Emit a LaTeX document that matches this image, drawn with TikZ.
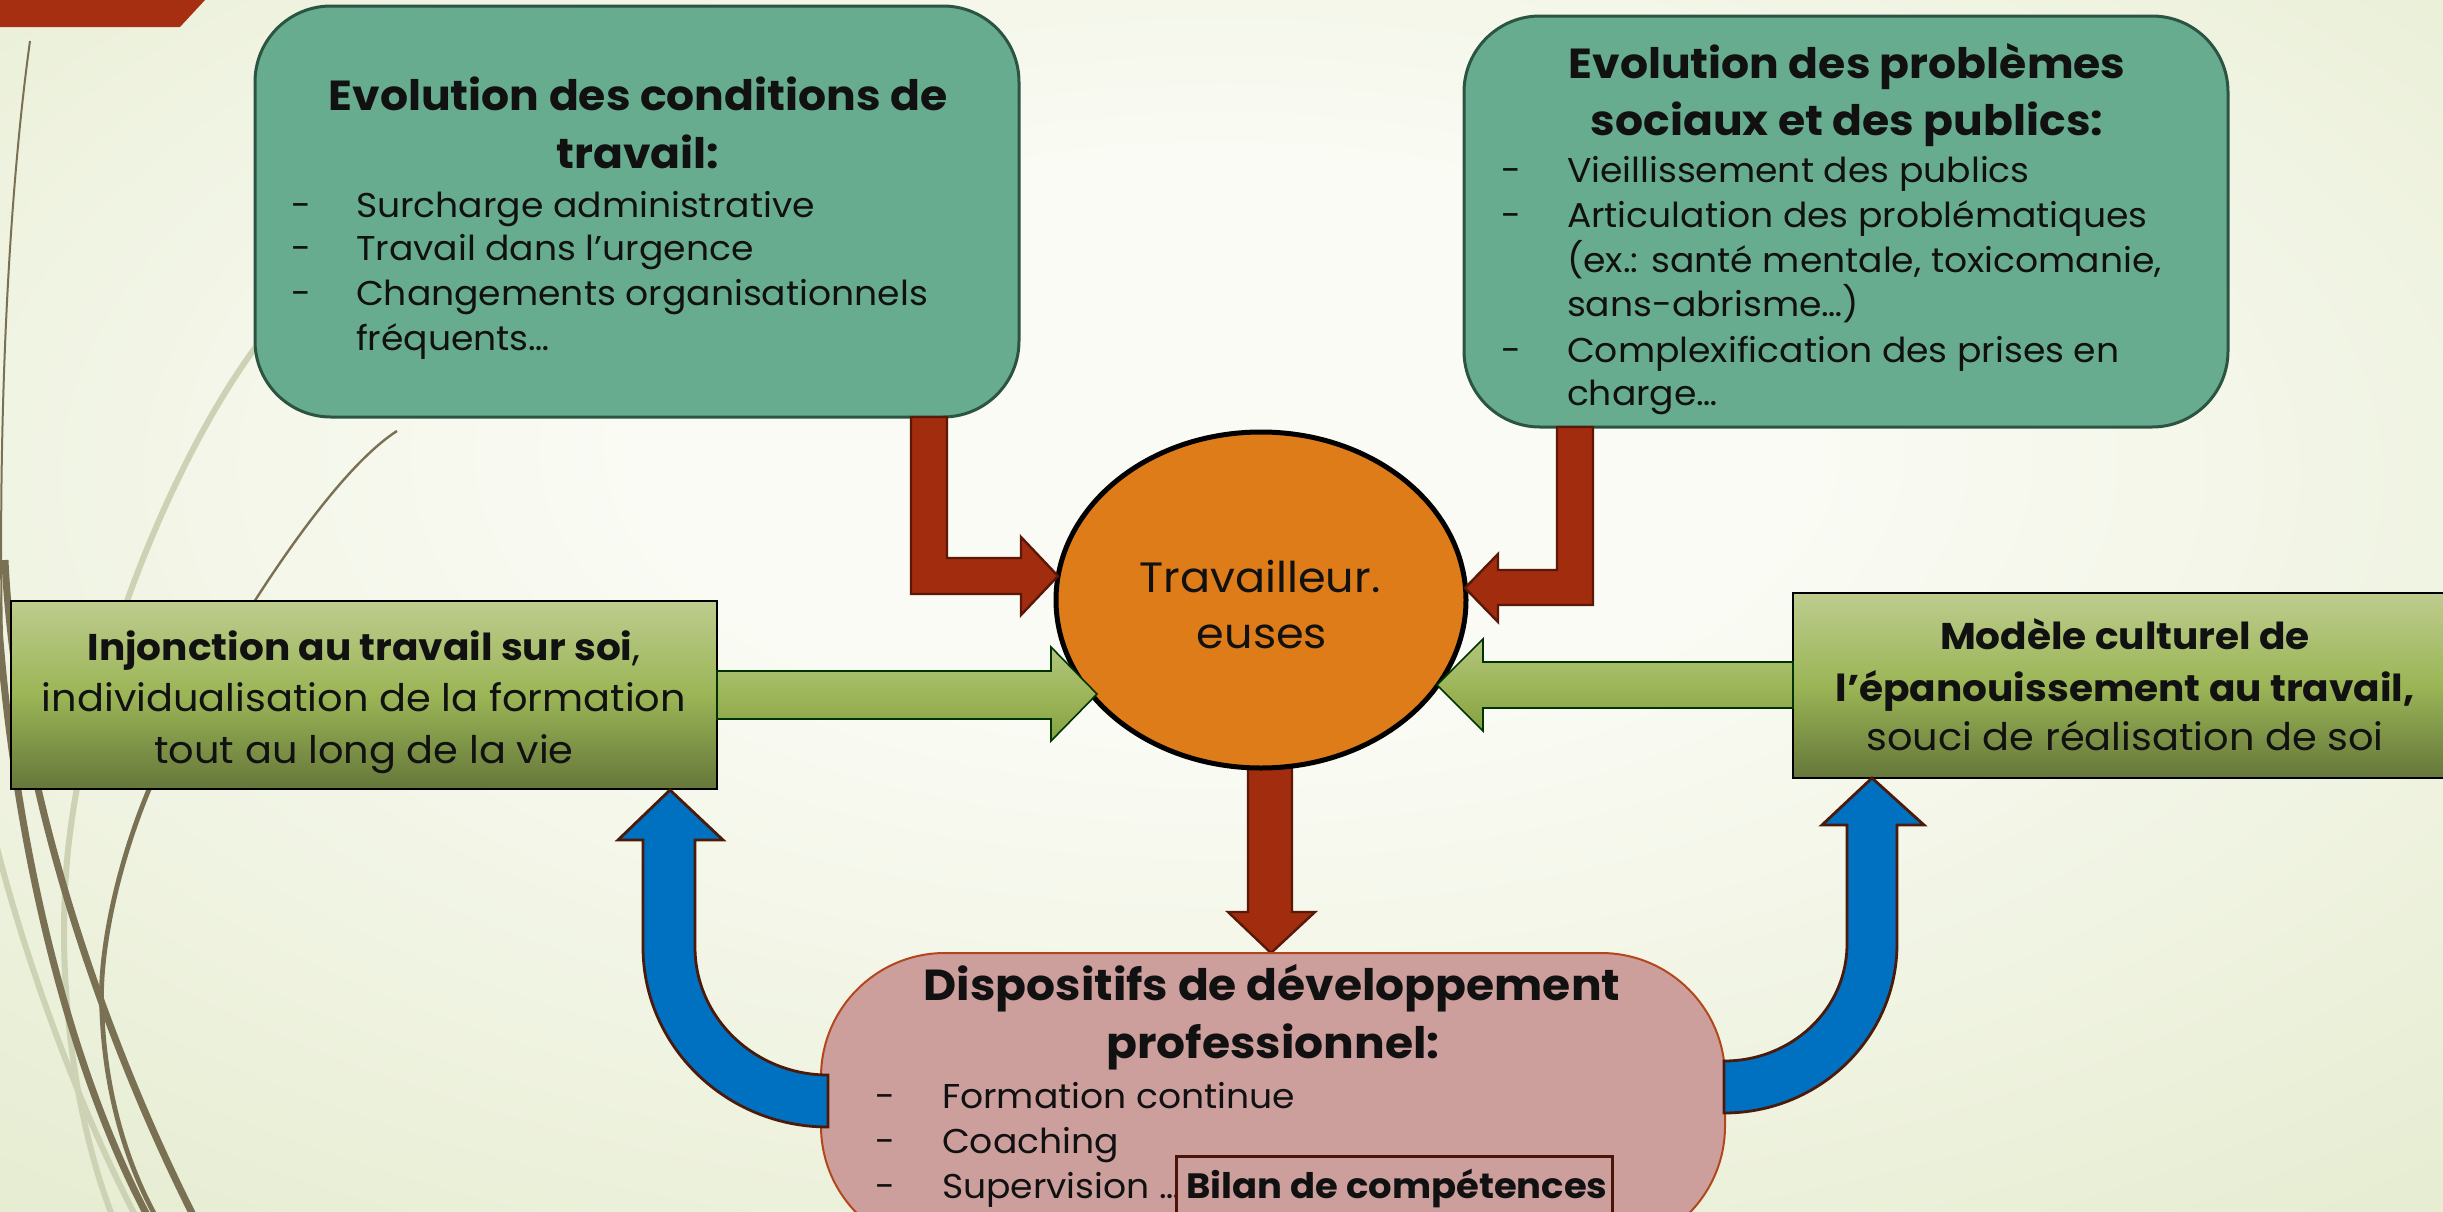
\documentclass[tikz,border=0pt]{standalone}
\usepackage{fontspec}
\setmainfont{Poppins}
\usepackage{graphicx}
\usetikzlibrary{shapes.geometric}
\definecolor{bgin}{HTML}{FAFBF4}
\definecolor{bgout}{HTML}{DDE6C1}
\definecolor{tealfill}{HTML}{68AC8F}
\definecolor{tealline}{HTML}{2C5443}
\definecolor{redfill}{HTML}{A22C0E}
\definecolor{redline}{HTML}{5A1808}
\definecolor{orangefill}{HTML}{DE7C1A}
\definecolor{gtop}{HTML}{BDCC8E}
\definecolor{gmid}{HTML}{9BB556}
\definecolor{gbot}{HTML}{65773A}
\definecolor{atop}{HTML}{B3C57E}
\definecolor{amid}{HTML}{9DB65A}
\definecolor{abot}{HTML}{86A044}
\definecolor{bluefill}{HTML}{0070C0}
\definecolor{blueline}{HTML}{4A1A0A}
\definecolor{pinkfill}{HTML}{CC9F9D}
\definecolor{pinkline}{HTML}{B4461C}
\definecolor{bilanline}{HTML}{4A1508}
\definecolor{txt}{HTML}{111111}
\definecolor{topbar}{HTML}{A52F10}
\definecolor{decobrown}{HTML}{7A7054}
\definecolor{decolight}{HTML}{CCD2B3}
\pgfdeclareradialshading{bgshade}{\pgfpoint{0bp}{8bp}}{color(0bp)=(bgin); color(12bp)=(bgin); color(50bp)=(bgout); color(70bp)=(bgout)}
\newcommand{\hs}[1]{\scalebox{1.05}[1]{#1}}
\tikzset{
  tealbox/.style={rectangle, draw=tealline, line width=0.75pt, fill=tealfill, rounded corners=19pt, inner sep=0pt, outer sep=0pt, minimum width=191pt, minimum height=102.75pt},
  greenbox/.style={rectangle, draw=black, line width=0.5pt, top color=gtop, bottom color=gbot, middle color=gmid, inner sep=0pt, outer sep=0pt},
  pinkbox/.style={rectangle, draw=pinkline, line width=0.5pt, fill=pinkfill, rounded corners=31pt, inner sep=0pt, outer sep=0pt},
  workerbox/.style={ellipse, draw=black, line width=1.25pt, fill=orangefill, inner sep=0pt, outer sep=0pt},
  bilanbox/.style={rectangle, draw=bilanline, line width=0.75pt, fill=pinkfill, inner sep=0pt, outer sep=0pt},
  redarrow/.style={fill=redfill, draw=redline, line width=0.6pt, line join=miter},
  greenarrow/.style={top color=atop, bottom color=abot, middle color=amid, draw=black!80!green, line width=0.4pt},
  bluearrow/.style={fill=bluefill, draw=blueline, line width=0.7pt},
  txtline/.style={anchor=base, inner sep=0pt, outer sep=0pt, text=txt},
  txtleft/.style={anchor=base west, inner sep=0pt, outer sep=0pt, text=txt},
  titlefont/.style={font=\fontsize{10.5}{12}\selectfont\bfseries},
  pinktitlefont/.style={font=\fontsize{10.85}{13}\selectfont\bfseries},
  bodyfont/.style={font=\fontsize{8.6}{10}\selectfont},
  greenfont/.style={font=\fontsize{9.5}{11}\selectfont},
  greenbfont/.style={font=\fontsize{9.3}{11}\selectfont\bfseries},
  circlefont/.style={font=\fontsize{10.6}{12}\selectfont},
  bilanfont/.style={font=\fontsize{8.8}{11}\selectfont\bfseries},
  decothick/.style={draw=decobrown, line width=1.75pt},
  decolightline/.style={draw=decolight, line width=1.5pt},
}
\begin{document}
\begin{tikzpicture}[x=0.25pt, y=-0.25pt]
\useasboundingbox (0,0) rectangle (2443,1211);
\clip (0,0) rectangle (2443,1211);
% background
\shade[shading=bgshade] (0,0) rectangle (2443,1211);
\fill[topbar] (0,0) -- (205,0) -- (180,27) -- (0,27) -- cycle;
% decorative curves
\draw[decolightline] (255,348) .. controls (180,450) and (90,650) .. (68,850) .. controls (55,980) and (75,1120) .. (112,1215);
\draw[decolightline] (-5,840) .. controls (25,960) and (80,1110) .. (135,1215);
\draw[draw=decobrown, line width=0.5pt] (30,41) .. controls (8,200) and (-2,420) .. (2,640);
\draw[decothick] (-5,560) .. controls (5,800) and (60,1050) .. (147,1215);
\draw[decothick] (5,560) .. controls (15,780) and (100,1030) .. (193,1215);
\draw[draw=decobrown, line width=0.6pt] (397,431) .. controls (320,480) and (200,680) .. (150,790);
\draw[draw=decobrown, line width=1.2pt] (150,787) .. controls (115,870) and (98,960) .. (102,1013) .. controls (105,1090) and (125,1160) .. (155,1215);
% down arrow (under the circle)
\draw[redarrow] (1248,750) -- (1248,912) -- (1228,912) -- (1271,953) -- (1315,912) -- (1292,912) -- (1292,750) -- cycle;
% boxes
\node[tealbox] (cond) at (637,211.5) {};
\node[tealbox] (publ) at (1846,221.5) {};
\node[greenbox, minimum width=176.5pt, minimum height=47pt] (injo) at (364,695) {};
\node[greenbox, minimum width=166pt, minimum height=46.25pt] (mode) at (2125,685.5) {};
\node[pinkbox, minimum width=226pt, minimum height=74.25pt] (disp) at (1273,1101.5) {};
\node[workerbox, minimum width=102.5pt, minimum height=84pt] (work) at (1261,600) {};
% red elbow arrows
\draw[redarrow] (911,417) -- (911,594) -- (1021,594) -- (1021,615) -- (1058,576) -- (1021,537) -- (1021,558) -- (947,558) -- (947,417) -- cycle;
\draw[redarrow] (1593,427) -- (1593,605) -- (1498,605) -- (1498,622) -- (1465,588) -- (1498,554) -- (1498,570) -- (1557,570) -- (1557,427) -- cycle;
% green arrows
\draw[greenarrow] (717,671) -- (1051,671) -- (1051,647) -- (1097,694) -- (1051,741) -- (1051,719) -- (717,719) -- cycle;
\draw[greenarrow] (1793,662) -- (1483,662) -- (1483,639) -- (1437,685) -- (1483,731) -- (1483,708) -- (1793,708) -- cycle;
% blue arrows
\draw[bluearrow] (828,1127) .. controls (726,1127) and (643,1046) .. (643,947) -- (643,840) -- (618,840) -- (670,790) -- (723,840) -- (695,840) -- (695,947) .. controls (695,1018) and (755,1075) .. (828,1075) -- cycle;
\draw[bluearrow] (1724,1113) .. controls (1820,1113) and (1897,1037) .. (1897,944) -- (1897,825) -- (1924,825) -- (1872,778) -- (1822,825) -- (1847,825) -- (1847,944) .. controls (1847,1009) and (1792,1061) .. (1724,1061) -- cycle;
% texts box 1
\node[txtline, titlefont] (c1) at (638,110) {\hs{Evolution des conditions de}};
\node[txtline, titlefont] (c2) at (638,168) {\hs{travail:}};
\node[txtline, bodyfont] (cd1) at (301,217) {\hs{-}};
\node[txtline, bodyfont] (cd2) at (301,260) {\hs{-}};
\node[txtline, bodyfont] (cd3) at (301,305) {\hs{-}};
\node[txtleft, bodyfont] (ci1) at (356,217) {\hs{Surcharge administrative}};
\node[txtleft, bodyfont] (ci2) at (356,260) {\hs{Travail dans l’urgence}};
\node[txtleft, bodyfont] (ci3) at (356,305) {\hs{Changements organisationnels}};
\node[txtleft, bodyfont] (ci4) at (356,350) {\hs{fréquents…}};
% texts box 2
\node[txtline, titlefont] (p1) at (1847,78) {\hs{Evolution des problèmes}};
\node[txtline, titlefont] (p2) at (1847,135) {\hs{sociaux et des publics:}};
\node[txtline, bodyfont] (pd1) at (1511,182) {\hs{-}};
\node[txtline, bodyfont] (pd2) at (1511,227) {\hs{-}};
\node[txtline, bodyfont] (pd3) at (1511,362) {\hs{-}};
\node[txtleft, bodyfont] (pi1) at (1567,182) {\hs{Vieillissement des publics}};
\node[txtleft, bodyfont] (pi2) at (1567,227) {\hs{Articulation des problématiques}};
\node[txtleft, bodyfont] (pi3) at (1567,272) {\hs{(ex.: santé mentale, toxicomanie,}};
\node[txtleft, bodyfont] (pi4) at (1567,316) {\hs{sans-abrisme…)}};
\node[txtleft, bodyfont] (pi5) at (1567,362) {\hs{Complexification des prises en}};
\node[txtleft, bodyfont] (pi6) at (1567,405) {\hs{charge…}};
% green left texts
\node[txtline, greenfont] (i1) at (364,660) {\hs{{\fontsize{9.3}{11}\selectfont\bfseries Injonction au travail sur soi},}};
\node[txtline, greenfont] (i2) at (364,711) {\hs{individualisation de la formation}};
\node[txtline, greenfont] (i3) at (364,763) {\hs{tout au long de la vie}};
% green right texts
\node[txtline, greenbfont] (m1) at (2125,649) {\hs{Modèle culturel de}};
\node[txtline, greenbfont] (m2) at (2125,701) {\hs{l’épanouissement au travail,}};
\node[txtline, greenfont] (m3) at (2125,750) {\hs{souci de réalisation de soi}};
% circle texts
\node[txtline, circlefont] (w1) at (1260,592) {\hs{Travailleur.}};
\node[txtline, circlefont] (w2) at (1262,648) {\hs{euses}};
% pink texts
\node[txtline, pinktitlefont] (d1) at (1272,1000) {\hs{Dispositifs de développement}};
\node[txtline, pinktitlefont] (d2) at (1273,1058) {\hs{professionnel:}};
\node[txtline, bodyfont] (dd1) at (885,1108) {\hs{-}};
\node[txtline, bodyfont] (dd2) at (885,1153) {\hs{-}};
\node[txtline, bodyfont] (dd3) at (885,1198) {\hs{-}};
\node[txtleft, bodyfont] (di1) at (942,1108) {\hs{Formation continue}};
\node[txtleft, bodyfont] (di2) at (942,1153) {\hs{Coaching}};
\node[txtleft, bodyfont] (di3) at (942,1198) {\hs{Supervision …}};
\node[bilanbox, anchor=north west, minimum width=109pt, minimum height=20pt] (bilan) at (1176,1156) {};
\node[txtline, bilanfont] (b1) at (1397,1198) {\hs{Bilan de compétences}};
\end{tikzpicture}
\end{document}
